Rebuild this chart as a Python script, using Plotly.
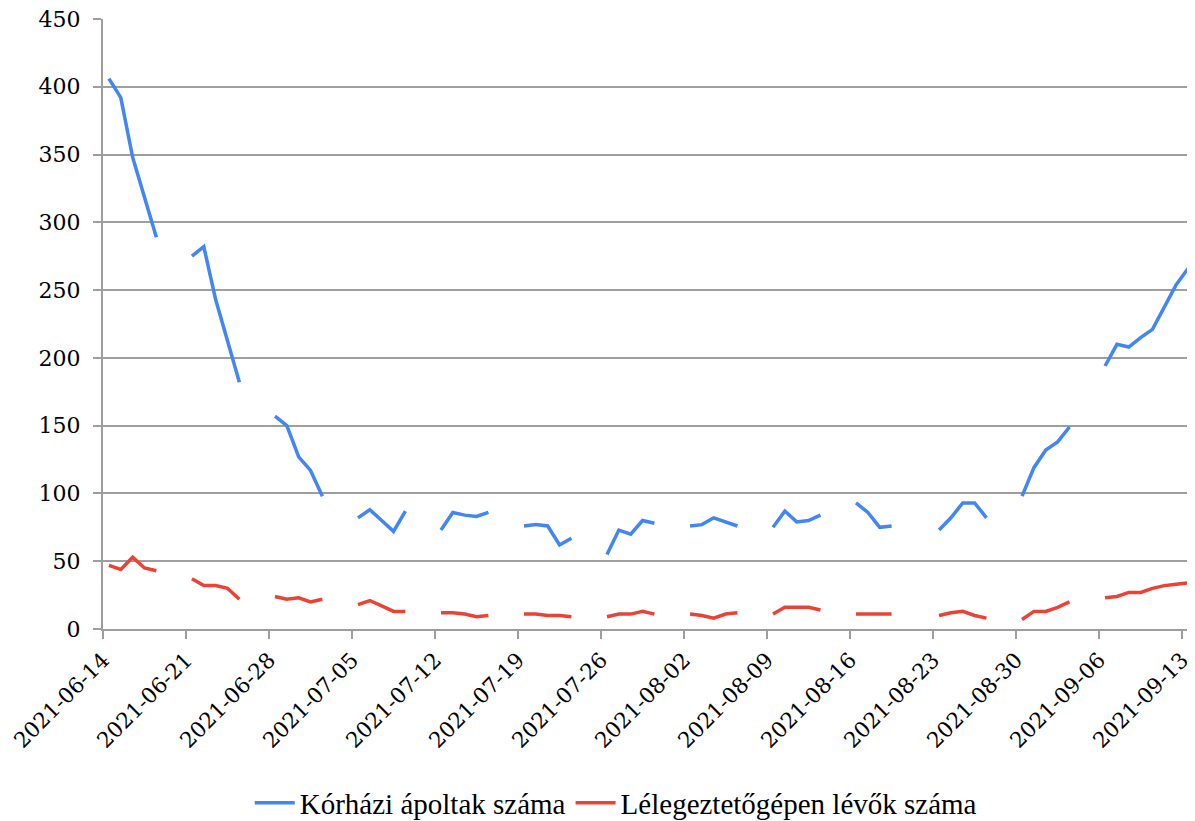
import pandas as pd
import plotly.graph_objects as go

# Daily categories (2021-06-14 .. 2021-09-13)
dates = [d.strftime("%Y-%m-%d") for d in pd.date_range("2021-06-14", "2021-09-13", freq="D")]

N = None
# Kórházi ápoltak száma (hospitalised) – weekends / holiday missing
hospitalised = [
    406, 392, 348, 318, 289, N, N,      # 06-14
    275, 282, 243, 213, 182, N, N,      # 06-21
    157, 150, 127, 117, 98, N, N,       # 06-28
    82, 88, 80, 72, 87, N, N,           # 07-05
    73, 86, 84, 83, 86, N, N,           # 07-12
    76, 77, 76, 62, 67, N, N,           # 07-19
    55, 73, 70, 80, 78, N, N,           # 07-26
    76, 77, 82, 79, 76, N, N,           # 08-02
    75, 87, 79, 80, 84, N, N,           # 08-09
    93, 86, 75, 76, N, N, N,            # 08-16
    73, 82, 93, 93, 82, N, N,           # 08-23
    98, 119, 132, 138, 149, N, N,       # 08-30
    194, 210, 208, 215, 221, 237, 254,  # 09-06
    266,                                # 09-13
]
# Lélegeztetőgépen lévők száma (on ventilator)
ventilated = [
    47, 44, 53, 45, 43, N, N,
    37, 32, 32, 30, 22, N, N,
    24, 22, 23, 20, 22, N, N,
    18, 21, 17, 13, 13, N, N,
    12, 12, 11, 9, 10, N, N,
    11, 11, 10, 10, 9, N, N,
    9, 11, 11, 13, 11, N, N,
    11, 10, 8, 11, 12, N, N,
    11, 16, 16, 16, 14, N, N,
    11, 11, 11, 11, N, N, N,
    10, 12, 13, 10, 8, N, N,
    7, 13, 13, 16, 20, N, N,
    23, 24, 27, 27, 30, 32, 33,
    34,
]

tick_dates = ["2021-06-14", "2021-06-21", "2021-06-28", "2021-07-05", "2021-07-12",
              "2021-07-19", "2021-07-26", "2021-08-02", "2021-08-09", "2021-08-16",
              "2021-08-23", "2021-08-30", "2021-09-06", "2021-09-13"]
y_ticks = [0, 50, 100, 150, 200, 250, 300, 350, 400, 450]

series_names = ["Kórházi ápoltak száma", "Lélegeztetőgépen lévők száma"]
colors = ["#4285F4", "#EA4335"]

fig = go.Figure()
for name, vals, col in zip(series_names, [hospitalised, ventilated], colors):
    fig.add_trace(go.Scatter(
        x=dates, y=vals, name=name, mode="lines",
        line=dict(color=col, width=3.5),
        connectgaps=False,
        xperiod=86400000, xperiodalignment="middle",
    ))

grid = "#9e9e9e"
fig.update_layout(
    width=1187, height=813,
    paper_bgcolor="white", plot_bgcolor="white",
    margin=dict(l=95, r=1, t=11, b=192, autoexpand=False),
    font=dict(family="DejaVu Serif", color="#000000"),
    showlegend=True,
    legend=dict(orientation="h", x=0.47, xanchor="center", y=-0.285, yanchor="middle",
                font=dict(family="Liberation Serif", size=29),
                itemwidth=40, tracegroupgap=0),
    xaxis=dict(
        type="date",
        range=["2021-06-14", "2021-09-14"],
        tickvals=tick_dates, ticktext=tick_dates,
        tickangle=-45,
        tickfont=dict(family="DejaVu Serif", size=21.5),
        ticklabeloverflow="allow",
        showgrid=False,
        showline=True, linecolor=grid, linewidth=2,
        ticks="outside", ticklen=8, tickcolor=grid, tickwidth=1.5,
        zeroline=False,
    ),
    yaxis=dict(
        range=[0, 450],
        tickvals=y_ticks,
        tickfont=dict(family="DejaVu Serif", size=22),
        ticklabelstandoff=8,
        ticklabeloverflow="allow",
        showgrid=True, gridcolor=grid, gridwidth=1.5,
        showline=True, linecolor=grid, linewidth=2,
        ticks="outside", ticklen=8, tickcolor=grid, tickwidth=1.5,
        zeroline=False,
    ),
)

fig.write_html("out.html")
